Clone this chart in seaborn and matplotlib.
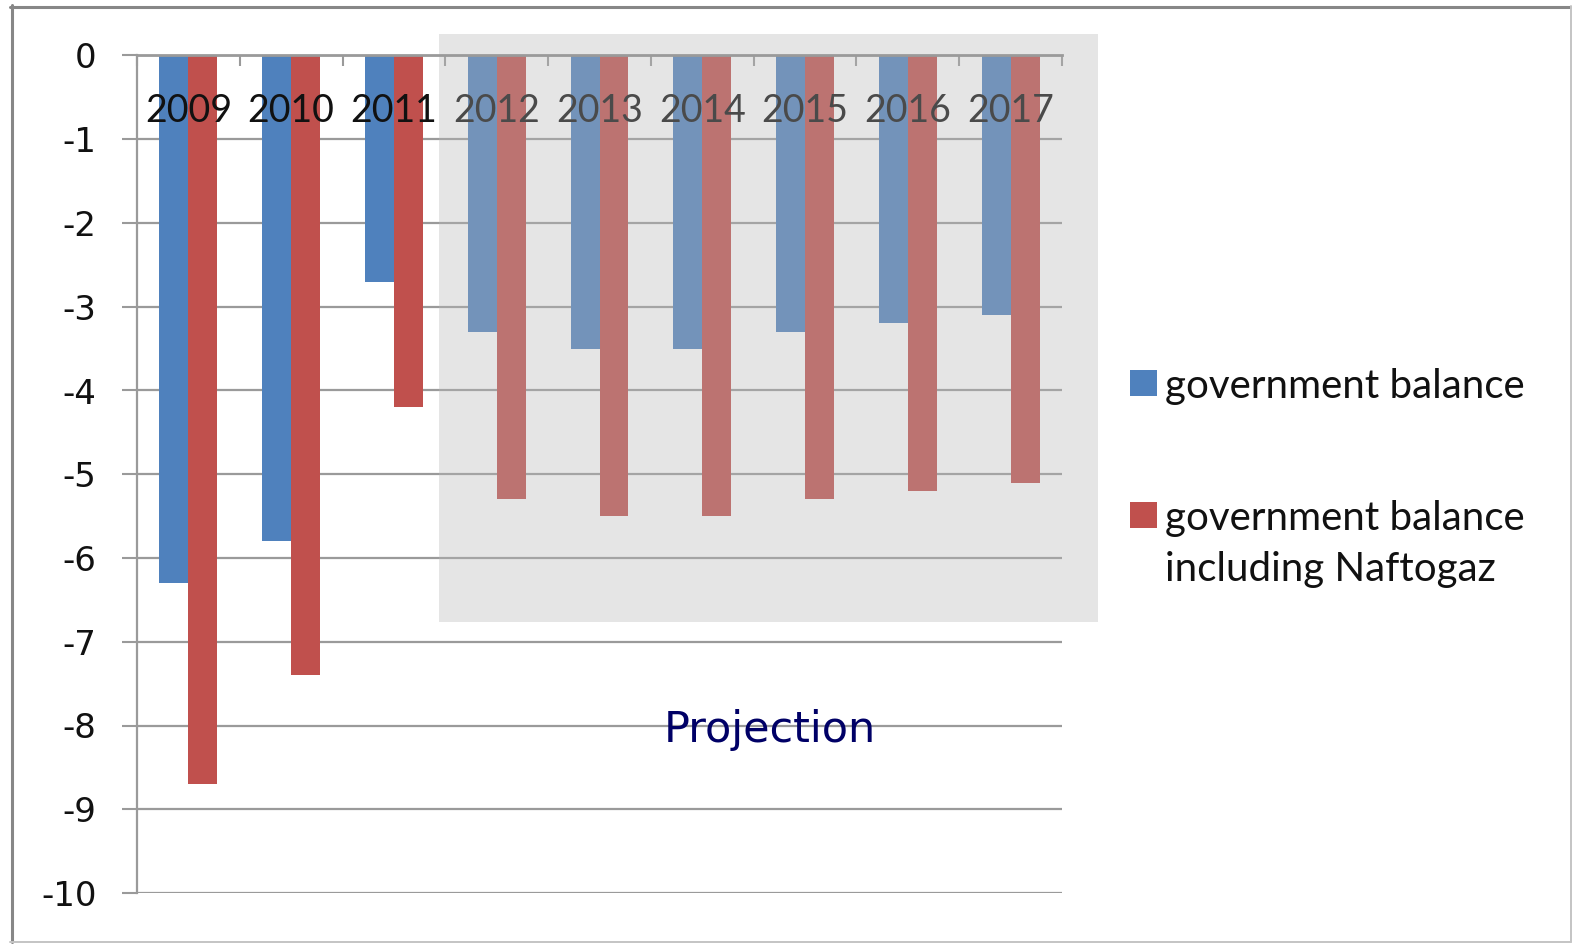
import matplotlib
matplotlib.use("Agg")
import matplotlib.pyplot as plt
import pandas as pd
import seaborn as sns
from matplotlib.patches import Rectangle
from matplotlib.lines import Line2D

# Data
years = ["2009", "2010", "2011", "2012", "2013", "2014", "2015", "2016", "2017"]
gov_balance = [-6.3, -5.8, -2.7, -3.3, -3.5, -3.5, -3.3, -3.2, -3.1]
gov_balance_naftogaz = [-8.7, -7.4, -4.2, -5.3, -5.5, -5.5, -5.3, -5.2, -5.1]
series_names = ["government balance", "government balance\nincluding Naftogaz"]
y_ticks = [0, -1, -2, -3, -4, -5, -6, -7, -8, -9, -10]
projection_label = "Projection"

colors = ["#4f81bd", "#c0504d"]
grid_col = "#9a9a9a"

sns.set_theme(style="white")
plt.rcParams["font.family"] = ["DejaVu Sans"]

W, H = 1572, 944
fig = plt.figure(figsize=(W / 100, H / 100), dpi=100)
ax = fig.add_axes([137 / W, 1 - 893 / H, (1062 - 137) / W, (893 - 55.5) / H])

df = pd.DataFrame({
    "year": years * 2,
    "value": gov_balance + gov_balance_naftogaz,
    "series": [series_names[0]] * len(years) + [series_names[1]] * len(years),
})
sns.barplot(data=df, x="year", y="value", hue="series", palette=colors,
            width=0.564, saturation=1, linewidth=0, ax=ax, legend=False, zorder=2)

ax.set_xlim(-0.5, len(years) - 0.5)
ax.set_ylim(-10, 0)
ax.set_xlabel("")
ax.set_ylabel("")

# y axis: outward ticks, horizontal gridlines
ax.set_yticks(y_ticks)
ax.set_yticklabels([str(v) for v in y_ticks], fontsize=24.5, color="#111111")
ax.tick_params(axis="y", direction="out", length=11, width=1.5, color=grid_col, pad=18, left=True)
ax.yaxis.grid(True, color=grid_col, linewidth=1.6, zorder=0.5)
ax.set_axisbelow(True)

# x axis sits on the zero line, ticks between categories
ax.xaxis.set_ticks_position("top")
ax.set_xticks([i - 0.5 for i in range(len(years) + 1)])
ax.tick_params(axis="x", direction="in", length=8, width=1.5, color=grid_col,
               labeltop=False, labelbottom=False, top=True, bottom=False)

for side in ["right", "bottom"]:
    ax.spines[side].set_visible(False)
ax.spines["left"].set_color(grid_col)
ax.spines["left"].set_linewidth(1.6)
ax.spines["top"].set_color(grid_col)
ax.spines["top"].set_linewidth(2)
ax.spines["top"].set_zorder(5)
ax.spines["left"].set_zorder(5)

# category labels just under the zero line
for i, yr in enumerate(years):
    ax.text(i, -0.66, yr, ha="center", va="center", fontsize=27,
            family=["Lato", "DejaVu Sans"], color="#111111", zorder=3)

# translucent band marking the projected years
ax.add_patch(Rectangle((439 / W, 1 - 622 / H), (1098 - 439) / W, (622 - 34) / H,
                       transform=fig.transFigure, facecolor="#b7b7b7", alpha=0.35,
                       edgecolor="none", clip_on=False, zorder=4))

ax.text(5.66, -8.2, projection_label, ha="center", va="baseline", fontsize=31,
        family=["DejaVu Sans"], color="#000066", zorder=6)

# legend
leg_font = dict(fontsize=29, family=["Lato", "DejaVu Sans"], color="#111111")
for (yc, name, col) in [(383, series_names[0], colors[0]), (515, series_names[1], colors[1])]:
    fig.patches.append(Rectangle((1130 / W, 1 - (yc + 13) / H), 27 / W, 26 / H,
                                 transform=fig.transFigure, facecolor=col, edgecolor="none"))
    lines = name.split("\n")
    for k, line in enumerate(lines):
        fig.text(1165 / W, 1 - (yc + 51 * k) / H, line, ha="left", va="center_baseline", **leg_font)

# outer frame
fig.add_artist(Line2D([11.5 / W, 11.5 / W], [1 - 942 / H, 1 - 5 / H], transform=fig.transFigure,
                      color="#878787", linewidth=2.2))
fig.add_artist(Line2D([10 / W, 1571 / W], [1 - 6.5 / H, 1 - 6.5 / H], transform=fig.transFigure,
                      color="#878787", linewidth=2.2))
fig.add_artist(Line2D([1570.5 / W, 1570.5 / W], [1 - 942 / H, 1 - 6 / H], transform=fig.transFigure,
                      color="#c4c4c4", linewidth=1.4))
fig.add_artist(Line2D([10 / W, 1571 / W], [1 - 941.5 / H, 1 - 941.5 / H], transform=fig.transFigure,
                      color="#c4c4c4", linewidth=1.4))

fig.savefig("out.png", dpi=100, facecolor="white")
